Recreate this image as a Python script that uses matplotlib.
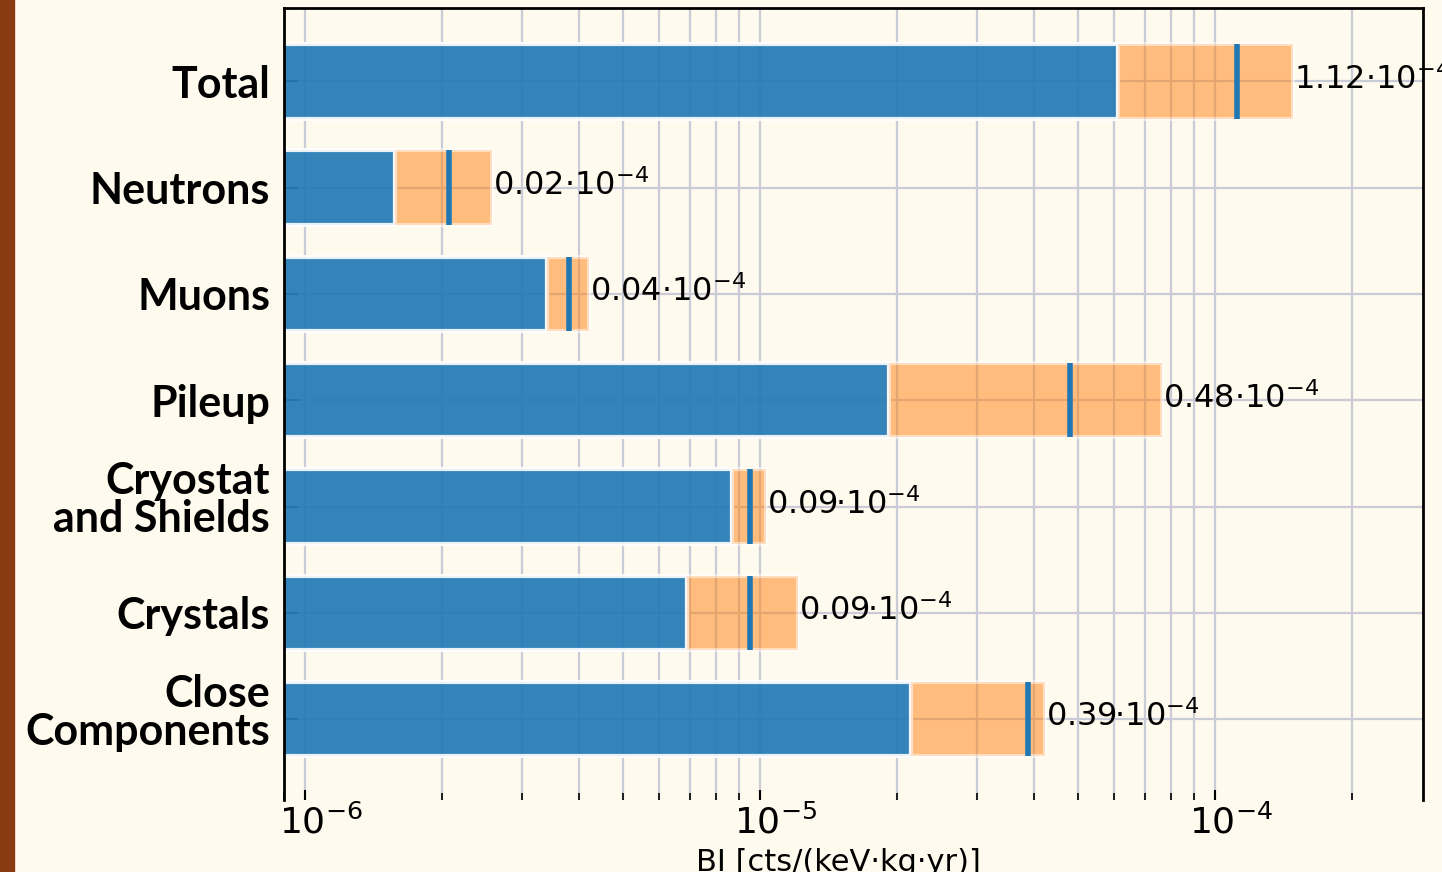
import numpy as np
import matplotlib.pyplot as plt
import matplotlib.transforms as mtransforms
from matplotlib.patches import Rectangle

categories = ["Total", "Neutrons", "Muons", "Pileup", "Cryostat\nand Shields", "Crystals", "Close\nComponents"]
bi_low = [6.12e-5, 1.58e-6, 3.41e-6, 1.92e-5, 8.66e-6, 6.92e-6, 2.15e-5]
bi_central = [1.12e-4, 2.07e-6, 3.81e-6, 4.80e-5, 9.48e-6, 9.48e-6, 3.88e-5]
bi_high = [1.48e-4, 2.58e-6, 4.20e-6, 7.65e-5, 1.03e-5, 1.21e-5, 4.23e-5]
value_labels = ["1.12", "0.02", "0.04", "0.48", "0.09", "0.09", "0.39"]

bg = "#fffaee"
fig = plt.figure(figsize=(14.42, 8.72), dpi=100, facecolor=bg)
fig.patches.append(Rectangle((0, 0), 14 / 1442, 1, transform=fig.transFigure, color="#8a3a10", zorder=0))
ax = fig.add_axes([284 / 1442, 1 - 800 / 872, (1423 - 284) / 1442, (800 - 8) / 872])
ax.set_facecolor(bg)

y = np.arange(len(categories))
start = 1e-7
ax.barh(y, np.array(bi_low) - start, left=start, height=0.7, color="tab:blue", alpha=0.9,
        edgecolor="white", linewidth=3, zorder=2)
ax.barh(y, np.array(bi_high) - np.array(bi_low), left=bi_low, height=0.7, color="tab:orange",
        alpha=0.5, edgecolor="white", linewidth=3, zorder=2)
ax.vlines(bi_central, y - 0.35, y + 0.35, color="tab:blue", linewidth=4, zorder=3)

for i in range(len(categories)):
    ax.text(bi_high[i] * 1.005, y[i] - 0.02, value_labels[i] + "·10$^{-4}$", fontsize=23,
            va="center", ha="left", zorder=4, clip_on=False)

ax.set_xscale("log")
ax.set_xlim(8.99e-7, 2.864e-4)
ax.set_ylim(6.76, -0.69)
ax.set_yticks(y)
ax.set_yticklabels(categories, fontsize=31, fontweight="bold", family="Lato", linespacing=0.95)
ax.grid(True, which="both", axis="x", color="#c9ccd6", linewidth=1.6, zorder=1)
ax.grid(True, which="major", axis="y", color="#c9ccd6", linewidth=1.6, zorder=1)
ax.set_axisbelow(True)

ax.tick_params(axis="y", direction="in", length=10, width=1.2, pad=10, color="#444444")
ax.tick_params(axis="x", which="major", direction="in", length=7, width=1.5, labelsize=26, pad=3)
ax.tick_params(axis="x", which="minor", direction="in", length=5, width=1.2)
for s in ["top", "right", "left"]:
    ax.spines[s].set_linewidth(2)
ax.spines["bottom"].set_visible(False)

# tick labels sit a little right of their ticks in the original
shift = mtransforms.ScaledTranslation(16 / 100, 0, fig.dpi_scale_trans)
for lab in ax.get_xticklabels():
    lab.set_transform(lab.get_transform() + shift)

# two-line category labels sit a bit higher
up = mtransforms.ScaledTranslation(0, 9 / 100, fig.dpi_scale_trans)
for lab in ax.get_yticklabels():
    if "\n" in lab.get_text():
        lab.set_transform(lab.get_transform() + up)

ax.set_xlabel("BI [cts/(keV·kg·yr)]", fontsize=22)
ax.xaxis.set_label_coords(0.487, -0.06)

plt.savefig("out.png", dpi=100, facecolor=bg)
